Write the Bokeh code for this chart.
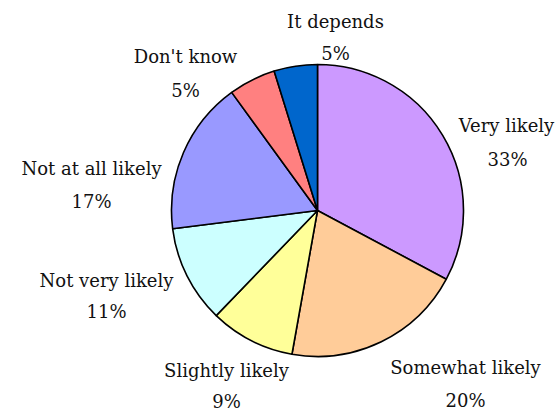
import numpy as np
from bokeh.plotting import figure
from bokeh.models import ColumnDataSource, Range1d
from bokeh.embed import file_html
from bokeh.resources import INLINE
from bokeh.core.properties import value

# ---- data ----
categories = ["Very likely", "Somewhat likely", "Slightly likely", "Not very likely",
              "Not at all likely", "Don't know", "It depends"]
shares = [32.8, 20.0, 9.4, 10.8, 17.0, 5.2, 4.8]
pct_labels = ["33%", "20%", "9%", "11%", "17%", "5%", "5%"]
colors = ["#CC99FF", "#FFCC99", "#FFFF99", "#CCFFFF", "#9999FF", "#FF8080", "#0066CC"]

# ---- layout (pixels) ----
W, H = 560, 412
cx, cy, R = 317, 202, 146
# label name baseline offsets from pie centre (dx right, dy up) and pct line offsets
name_off = [(189, 85), (148, -157), (-91, -160), (-211, -70), (-226, 42), (-132, 154), (18, 189)]
pct_off = [(190, 51), (148, -190), (-91, -191), (-211, -101), (-226, 9), (-132, 120), (18, 157)]

fracs = np.array(shares) / np.sum(shares)
cum = np.cumsum(fracs) * 2 * np.pi
start = np.pi / 2 - np.concatenate([[0], cum[:-1]])
end = np.pi / 2 - cum

src = ColumnDataSource(dict(
    cat=categories, color=colors,
    start=list(end), end=list(start),
    x=[cx] * len(categories), y=[cy] * len(categories),
))

p = figure(width=W, height=H, output_backend="svg", toolbar_location=None,
           x_range=Range1d(0, W), y_range=Range1d(0, H), min_border=0)
p.axis.visible = False
p.grid.visible = False
p.outline_line_color = None
p.background_fill_color = "white"

p.wedge(x="x", y="y", radius=R, start_angle="start", end_angle="end",
        fill_color="color", line_color="black", line_width=1.6, source=src)

nsrc = ColumnDataSource(dict(
    x=[cx + d[0] for d in name_off], y=[cy + d[1] for d in name_off], t=categories))
psrc = ColumnDataSource(dict(
    x=[cx + d[0] for d in pct_off], y=[cy + d[1] for d in pct_off], t=pct_labels))

for s in (nsrc, psrc):
    p.text(x="x", y="y", text="t", source=s, text_align="center",
           text_baseline="alphabetic", text_font=value("DejaVu Serif"),
           text_font_size="18px", text_color="#111111")

open("out.html", "w").write(file_html(p, INLINE))
